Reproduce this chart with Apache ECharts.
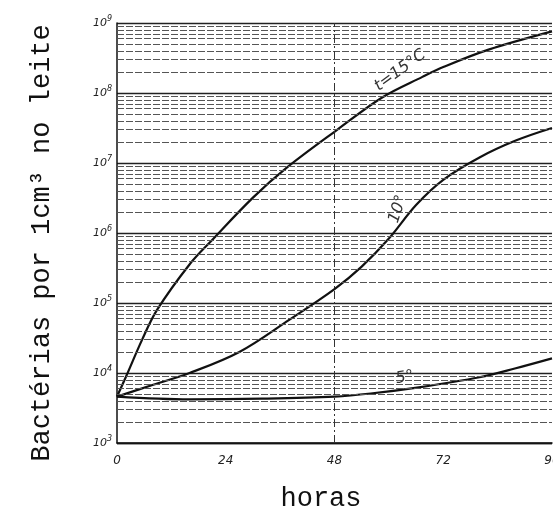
<!DOCTYPE html>
<html>
<head>
<meta charset="utf-8">
<script src="https://cdn.jsdelivr.net/npm/echarts@6/dist/echarts.min.js"></script>
<style>
  html, body { margin: 0; padding: 0; background: #fff; }
  #chart { width: 553px; height: 520px; }
</style>
</head>
<body>
<div id="chart"></div>
<script>
// horas
const xTicks = [0, 24, 48, 72, 96];
// bacterias por cm3
const hours15 = [0, 2, 5.5, 8.8, 16, 21, 30, 37.4, 48.5, 58.6, 67.4, 72, 82, 96];
const count15 = [4600, 8900, 29500, 79000, 355000, 794000, 3.2e6, 8.5e6, 2.95e7, 8.7e7, 1.7e8, 2.35e8, 4.17e8, 7.6e8];
const hours10 = [0, 8, 16, 27, 38, 48, 54, 60, 66, 72, 80, 88, 96];
const count10 = [4600, 6800, 10000, 20000, 57500, 158000, 331000, 832000, 2.51e6, 5.75e6, 1.2e7, 2.09e7, 3.16e7];
const hours5 = [0, 16, 32, 48, 56, 67, 80, 88, 96];
const count5 = [4600, 4200, 4300, 4600, 5100, 6300, 8700, 11700, 16200];
const curveLabels = ['t=15°C', '10°', '5°'];

const chart = echarts.init(document.getElementById('chart'));

const pairs = (xs, ys) => xs.map((x, i) => [x, ys[i]]);

// linhas do papel semi-log (2..9 em cada decada)
const paperLines = [];
for (let d = 1e3; d < 1e9; d *= 10) {
  for (let k = 2; k <= 9; k++) {
    paperLines.push({ yAxis: d * k });
  }
}

const curveStyle = { color: '#111', width: 2.2 };
const labelFont = { fontFamily: 'DejaVu Sans', fontStyle: 'italic', fontSize: 16, color: '#333' };

const option = {
  backgroundColor: '#fff',
  animation: false,
  title: [{
    text: 'horas',
    left: 316,
    top: 480,
    textAlign: 'center',
    textStyle: { fontFamily: "'Liberation Mono', monospace", fontSize: 27, fontWeight: 'normal', color: '#111' }
  }],
  grid: { left: 117, right: 1, top: 23, bottom: 77, outerBoundsMode: 'none' },
  xAxis: {
    type: 'value',
    min: 0,
    max: 96,
    interval: 24,
    axisLine: { lineStyle: { color: '#111', width: 1.5 } },
    axisTick: { show: false },
    splitLine: { show: false },
    axisLabel: {
      margin: 12,
      fontFamily: 'DejaVu Sans',
      fontStyle: 'italic',
      fontSize: 12,
      color: '#222'
    }
  },
  yAxis: {
    type: 'log',
    logBase: 10,
    min: 1e3,
    max: 1e9,
    name: 'Bactérias por 1cm³ no leite',
    nameLocation: 'middle',
    nameRotate: 90,
    nameGap: 62,
    nameTextStyle: { fontFamily: "'Liberation Mono', monospace", fontSize: 27, color: '#111', padding: [0, 20, 0, 0] },
    axisLine: { show: true, lineStyle: { color: '#111', width: 1.5 } },
    axisTick: { show: false },
    splitLine: { show: true, lineStyle: { color: '#222', width: 1.3 } },
    axisLabel: {
      margin: 5,
      formatter: v => '{a|10}{b|' + Math.round(Math.log10(v)) + '}',
      rich: {
        a: { fontFamily: 'DejaVu Sans', fontStyle: 'italic', fontSize: 11, color: '#222' },
        b: { fontFamily: 'DejaVu Sans', fontStyle: 'italic', fontSize: 8, color: '#222', padding: [0, 0, 8, 0] }
      }
    }
  },
  series: [
    {
      name: curveLabels[0],
      type: 'line',
      smooth: 0.35,
      showSymbol: false,
      lineStyle: curveStyle,
      data: pairs(hours15, count15),
      markLine: {
        silent: true,
        symbol: 'none',
        label: { show: false },
        lineStyle: { color: '#555', type: [7, 2], width: 1 },
        data: paperLines.concat([{ xAxis: 48, lineStyle: { color: '#333', type: [8, 3, 2, 3], width: 1 } }])
      },
      markPoint: {
        symbolSize: 0,
        data: [{ coord: [62.5, 2.1e8] }],
        label: Object.assign({ show: true, position: 'inside', rotate: 36, formatter: curveLabels[0] }, labelFont)
      }
    },
    {
      name: curveLabels[1],
      type: 'line',
      smooth: 0.35,
      showSymbol: false,
      lineStyle: curveStyle,
      data: pairs(hours10, count10),
      markPoint: {
        symbolSize: 0,
        data: [{ coord: [62, 2.2e6] }],
        label: Object.assign({ show: true, position: 'inside', rotate: 72, formatter: curveLabels[1] }, labelFont)
      }
    },
    {
      name: curveLabels[2],
      type: 'line',
      smooth: 0.35,
      showSymbol: false,
      lineStyle: curveStyle,
      data: pairs(hours5, count5),
      markPoint: {
        symbolSize: 0,
        data: [{ coord: [63.5, 8600] }],
        label: Object.assign({ show: true, position: 'inside', rotate: 10, formatter: curveLabels[2] }, labelFont)
      }
    }
  ]
};

chart.setOption(option);

window.addEventListener('resize', function () {
  chart.resize();
});
</script>
</body>
</html>
